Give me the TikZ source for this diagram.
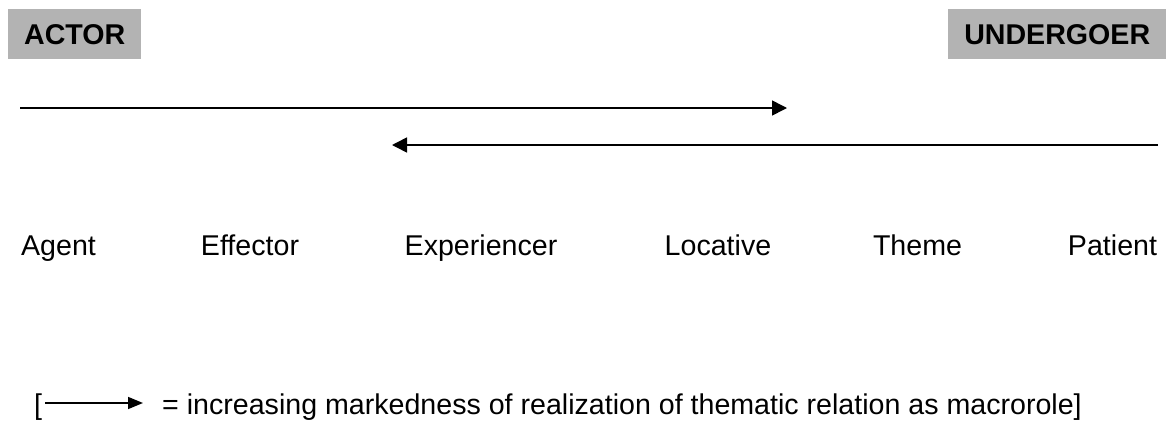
\documentclass[tikz,border=0pt]{standalone}
\usepackage{fontspec}
\setmainfont{Liberation Sans}
\usetikzlibrary{arrows.meta}
\definecolor{boxgray}{HTML}{B3B3B3}
\begin{document}
\begin{tikzpicture}[x=1pt,y=-1pt,
  rolebox/.style={fill=boxgray, font=\fontsize{28.6}{34}\selectfont\bfseries, inner sep=0pt, anchor=north west, minimum height=50pt},
  lab/.style={font=\fontsize{28.6}{34}\selectfont, anchor=base, inner sep=0pt},
  arr/.style={line width=1.6pt, -{Triangle[length=15pt,width=15pt]}},
  legarr/.style={line width=1.6pt, -{Triangle[length=15pt,width=12pt]}}]
\useasboundingbox (0,0) rectangle (1168,421);
\node[rolebox, minimum width=133pt] (actor) at (8,9) {ACTOR};
\node[rolebox, minimum width=218pt] (under) at (948,9) {UNDERGOER};
\coordinate (a1s) at (20,108);
\coordinate (a1e) at (787,108);
\draw[arr] (a1s) -- (a1e);
\coordinate (a2s) at (1158,145);
\coordinate (a2e) at (392,145);
\draw[arr] (a2s) -- (a2e);
\node[lab] (agent) at (58.5,255) {Agent};
\node[lab] (effector) at (250,255) {Effector};
\node[lab] (exper) at (481,255) {Experiencer};
\node[lab] (loc) at (718,255) {Locative};
\node[lab] (theme) at (917.5,255) {Theme};
\node[lab] (patient) at (1112.5,255) {Patient};
\node[lab, anchor=base west] (lbr) at (34,414) {[};
\node[lab, anchor=base west] (legtext) at (162,414) {= increasing markedness of realization of thematic relation as macrorole]};
\coordinate (lstart) at (45,403);
\coordinate (lend) at (143,403);
\draw[legarr] (lstart) -- (lend);
\end{tikzpicture}
\end{document}
